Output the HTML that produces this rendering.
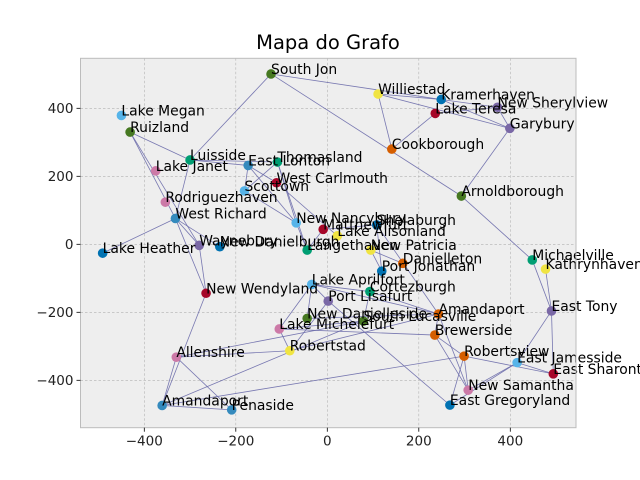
<!DOCTYPE html>
<html><head><meta charset="utf-8"><style>
html,body{margin:0;padding:0;background:#fff;}
svg{display:block;font-family:"DejaVu Sans","Liberation Sans",sans-serif;}
</style></head><body>
<svg id="chart" width="640" height="480" viewBox="0 0 640 480">
<text x="328" y="49" text-anchor="middle" font-size="19.5" fill="#000">Mapa do Grafo</text>
<rect x="80.5" y="58.3" width="495.5" height="369.4" fill="#eeeeee"/>
<g id="grid"></g>
<g id="edges"></g>
<g id="nodes"></g>
<g id="labels"></g>
<rect x="80.5" y="58.3" width="495.5" height="369.4" fill="none" stroke="#bcbcbc" stroke-width="1"/>
<g id="axes"></g>
</svg>
<script>
const nodeNames = ["South Jon","Lake Megan","Ruizland","Luisside","Lake Janet","East Lonton","Thomasland","West Carlmouth","Scottown","Rodriguezhaven","West Richard","New Nancybury","Matthewfurt","Waynebury","New Danielburgh","Lake Heather","New Wendyland","Lake Aprilfort","Port Lisafurt","New Danielleside","Lake Michelefurt","Robertstad","Allenshire","Amandaport","Penaside","Langethaven","Williestad","Kramerhaven","Lake Teresa","New Sherylview","Garybury","Cookborough","Arnoldborough","Lake Alisonland","Shelaburgh","New Patricia","Danielleton","Port Jonathan","Cortezburgh","Amandaport","South Lucasville","Brewerside","Robertsview","East Jamesside","East Sharontown","New Samantha","East Gregoryland","Michaelville","Kathrynhaven","East Tony"];
const nodeX = [-123,-450,-431,-300,-375,-173,-109,-111,-181,-354,-332,-68,-9,-280,-235,-491,-265,-34,2,-44,-105,-82,-330,-361,-209,-44,111,249,236,372,399,141,293,22,108,95,165,119,93,243,79,235,299,415,494,308,268,448,477,490];
const nodeY = [501,379,330,248,216,232,242,181,157,124,76,63,44,-3,-7,-26,-144,-118,-167,-218,-249,-313,-332,-474,-487,-17,442,426,385,403,341,280,142,25,57,-17,-56,-79,-139,-205,-226,-267,-329,-348,-381,-429,-473,-46,-73,-196];
const nodeColors = ["#467821","#56B4E9","#467821","#009E73","#CC79A7","#348ABD","#009E73","#A60628","#56B4E9","#CC79A7","#348ABD","#56B4E9","#A60628","#7A68A6","#0072B2","#0072B2","#A60628","#56B4E9","#7A68A6","#467821","#CC79A7","#F0E442","#CC79A7","#348ABD","#348ABD","#009E73","#F0E442","#0072B2","#A60628","#7A68A6","#7A68A6","#D55E00","#467821","#F0E442","#0072B2","#F0E442","#D55E00","#0072B2","#009E73","#D55E00","#467821","#D55E00","#D55E00","#56B4E9","#A60628","#CC79A7","#0072B2","#009E73","#F0E442","#7A68A6"];
const edgeFrom = [0,0,3,0,32,26,26,31,31,27,28,29,27,30,2,2,2,3,3,5,5,5,6,6,6,7,8,10,10,10,10,13,16,23,22,23,23,22,22,23,17,17,17,17,17,18,18,38,38,20,20,20,19,21,25,25,12,35,35,34,34,39,39,41,41,42,42,42,43,43,43,49,49,49,49];
const edgeTo   = [3,27,10,32,47,27,30,26,28,29,29,30,30,32,3,10,13,5,6,8,11,7,8,11,25,33,11,15,13,14,16,16,23,22,24,24,40,40,21,42,38,18,20,19,39,21,46,40,39,21,40,41,39,39,11,12,34,37,36,37,39,41,45,42,45,46,45,44,44,45,46,44,47,48,43];
const xTicks = [-400,-200,0,200,400];
const yTicks = [-400,-200,0,200,400];

const NS = "http://www.w3.org/2000/svg";
const X0 = 327.3, KX = 0.4575, Y0 = 244.3, KY = 0.34;
const L = 80.5, R = 576, T = 58.3, B = 427.7;
function sx(v){ return X0 + v * KX; }
function sy(v){ return Y0 - v * KY; }
function mk(tag, parent){ const e = document.createElementNS(NS, tag); parent.appendChild(e); return e; }

const grid = document.getElementById('grid');
const axes = document.getElementById('axes');
xTicks.forEach(t => {
  const g = mk('line', grid);
  g.setAttribute('x1', sx(t)); g.setAttribute('x2', sx(t)); g.setAttribute('y1', T); g.setAttribute('y2', B);
  g.setAttribute('stroke', '#b2b2b2'); g.setAttribute('stroke-width', '0.6'); g.setAttribute('stroke-dasharray', '2.5,2');
  
  
  const tk = mk('line', axes);
  tk.setAttribute('x1', sx(t)); tk.setAttribute('x2', sx(t)); tk.setAttribute('y1', B); tk.setAttribute('y2', B + 4);
  tk.setAttribute('stroke', '#000'); tk.setAttribute('stroke-width', '0.8');
  
  
  const tl = mk('text', axes);
  tl.setAttribute('x', sx(t)); tl.setAttribute('y', B + 18); tl.setAttribute('text-anchor', 'middle');
  tl.setAttribute('font-size', '13.5'); tl.setAttribute('fill', '#222');
  tl.textContent = t < 0 ? '\u2212' + Math.abs(t) : String(t);
  
  
});
yTicks.forEach(t => {
  const g = mk('line', grid);
  g.setAttribute('x1', L); g.setAttribute('x2', R); g.setAttribute('y1', sy(t)); g.setAttribute('y2', sy(t));
  g.setAttribute('stroke', '#b2b2b2'); g.setAttribute('stroke-width', '0.6'); g.setAttribute('stroke-dasharray', '2.5,2');
  
  
  const tk = mk('line', axes);
  tk.setAttribute('x1', L - 4); tk.setAttribute('x2', L); tk.setAttribute('y1', sy(t)); tk.setAttribute('y2', sy(t));
  tk.setAttribute('stroke', '#000'); tk.setAttribute('stroke-width', '0.8');
  
  
  const tl = mk('text', axes);
  tl.setAttribute('x', L - 7); tl.setAttribute('y', sy(t) + 4.8); tl.setAttribute('text-anchor', 'end');
  tl.setAttribute('font-size', '13.5'); tl.setAttribute('fill', '#222');
  tl.textContent = t < 0 ? '\u2212' + Math.abs(t) : String(t);
  
  
});

const edges = document.getElementById('edges');
edgeFrom.forEach((a, i) => {
  const b = edgeTo[i];
  const ln = mk('line', edges);
  ln.setAttribute('x1', sx(nodeX[a])); ln.setAttribute('y1', sy(nodeY[a]));
  ln.setAttribute('x2', sx(nodeX[b])); ln.setAttribute('y2', sy(nodeY[b]));
  ln.setAttribute('stroke', '#6a6aaa'); ln.setAttribute('stroke-width', '0.8'); ln.setAttribute('stroke-opacity', '0.9');
  
  
});

const nodes = document.getElementById('nodes');
const labels = document.getElementById('labels');
nodeNames.forEach((n, i) => {
  const c = mk('circle', nodes);
  c.setAttribute('cx', sx(nodeX[i])); c.setAttribute('cy', sy(nodeY[i])); c.setAttribute('r', '4.8');
  c.setAttribute('fill', nodeColors[i]);
  
  
  const t = mk('text', labels);
  t.setAttribute('x', sx(nodeX[i])); t.setAttribute('y', sy(nodeY[i]));
  t.setAttribute('font-size', '13.9'); t.setAttribute('fill', '#000');
  t.textContent = n;
  
  
});
</script>
</body></html>
